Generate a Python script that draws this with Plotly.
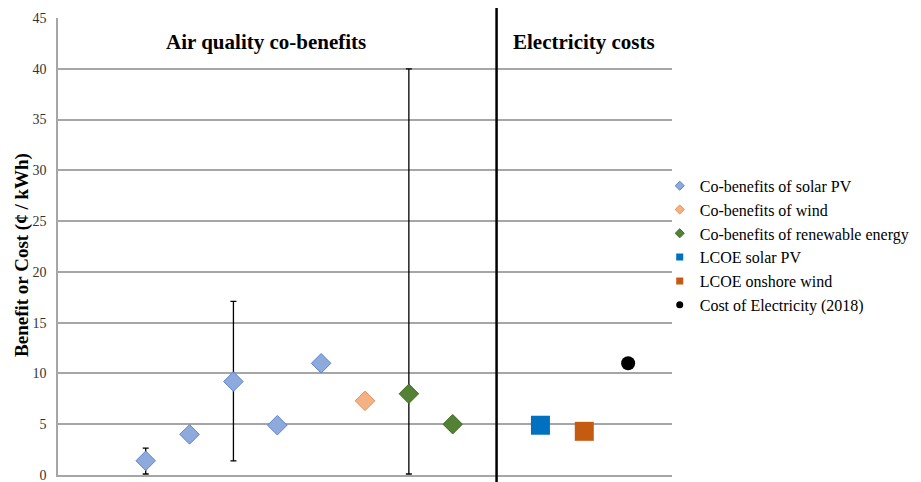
import plotly.graph_objects as go

# Data
solar_x = [2, 3, 4, 5, 6]
solar_y = [1.4, 4.0, 9.2, 4.9, 11.0]
solar_err_plus = [1.25, 0, 7.9, 0, 0]
solar_err_minus = [1.3, 0, 7.8, 0, 0]

wind_x = [7]
wind_y = [7.3]

renew_x = [8, 9]
renew_y = [8.0, 5.0]
renew_err_plus = [32.0, 0]
renew_err_minus = [7.9, 0]

lcoe_solar_x = [11]
lcoe_solar_y = [4.9]
lcoe_wind_x = [12]
lcoe_wind_y = [4.3]
elec_x = [13]
elec_y = [11.0]

divider_x = 10
section_labels = ["Air quality co-benefits", "Electricity costs"]
section_label_x = [4.75, 12.0]
y_title = "Benefit or Cost (¢ / kWh)"

SERIF = "Liberation Serif, Times New Roman, serif"

fig = go.Figure()

err_style = dict(type="data", symmetric=False, color="black", thickness=1.3, width=3)

series = [
    dict(x=solar_x, y=solar_y, name="Co-benefits of solar PV", symbol="diamond", size=15,
         color="#8eaadc", line=dict(color="#5b84d0", width=1), lsize=7,
         err=(solar_err_plus, solar_err_minus)),
    dict(x=wind_x, y=wind_y, name="Co-benefits of wind", symbol="diamond", size=15,
         color="#f4b183", line=dict(color="#ed8c4f", width=1), lsize=7, err=None),
    dict(x=renew_x, y=renew_y, name="Co-benefits of renewable energy", symbol="diamond", size=15,
         color="#548235", line=dict(color="#446b2b", width=1), lsize=7,
         err=(renew_err_plus, renew_err_minus)),
    dict(x=lcoe_solar_x, y=lcoe_solar_y, name="LCOE solar PV", symbol="square", size=19,
         color="#0070c0", line=dict(width=0), lsize=7, err=None),
    dict(x=lcoe_wind_x, y=lcoe_wind_y, name="LCOE onshore wind", symbol="square", size=19,
         color="#c55a11", line=dict(width=0), lsize=7, err=None),
    dict(x=elec_x, y=elec_y, name="Cost of Electricity (2018)", symbol="circle", size=14,
         color="black", line=dict(width=0), lsize=7, err=None),
]

for s in series:
    kw = {}
    if s["err"] is not None:
        kw["error_y"] = dict(array=s["err"][0], arrayminus=s["err"][1], **err_style)
    fig.add_trace(go.Scatter(
        x=s["x"], y=s["y"], mode="markers", name=s["name"], showlegend=False,
        marker=dict(symbol=s["symbol"], size=s["size"], color=s["color"], line=s["line"]),
        **kw))
for s in series:
    fig.add_trace(go.Scatter(
        x=[None], y=[None], mode="markers", name=s["name"], showlegend=True,
        marker=dict(symbol=s["symbol"], size=s["lsize"], color=s["color"], line=s["line"])))

fig.add_shape(type="line", xref="x", yref="paper", x0=divider_x, x1=divider_x,
              y0=-0.05, y1=1.022, line=dict(color="black", width=2.5))

for txt, xx in zip(section_labels, section_label_x):
    fig.add_annotation(x=xx, y=0.978, xref="x", yref="paper", text="<b>%s</b>" % txt,
                       showarrow=False, font=dict(family=SERIF, size=21, color="black"))

fig.add_annotation(x=-0.059, y=0.481, xref="paper", yref="paper", text="<b>%s</b>" % y_title,
                   textangle=-90, showarrow=False, xanchor="center", yanchor="middle",
                   borderpad=0,
                   font=dict(family=SERIF, size=19, color="black"))

# The page body adds an 8px offset; figure size/margins compensate for it
fig.update_layout(
    width=940, height=480,
    margin=dict(l=50, r=276, t=10, b=13, autoexpand=False),
    plot_bgcolor="white", paper_bgcolor="white",
    font=dict(family=SERIF, color="black"),
    showlegend=True,
    legend=dict(x=0.980, y=0.67, xanchor="left", yanchor="top",
                font=dict(family=SERIF, size=16, color="black"),
                itemsizing="trace", itemwidth=30, tracegroupgap=0,
                bgcolor="rgba(0,0,0,0)"),
)
fig.update_xaxes(range=[0, 14], showticklabels=False, showgrid=False, zeroline=False,
                 showline=True, linecolor="#a6a6a6", linewidth=1.5, ticks="",
                 automargin=False)
fig.update_yaxes(range=[0, 45], dtick=5, showgrid=True, gridcolor="#a6a6a6", gridwidth=1.5,
                 zeroline=False, showline=True, linecolor="#a6a6a6", linewidth=1.5,
                 ticks="", automargin=False, ticklabelstandoff=7, ticklabeloverflow="allow",
                 tickfont=dict(family=SERIF, size=14, color="#333"))

fig.write_html("out.html")
